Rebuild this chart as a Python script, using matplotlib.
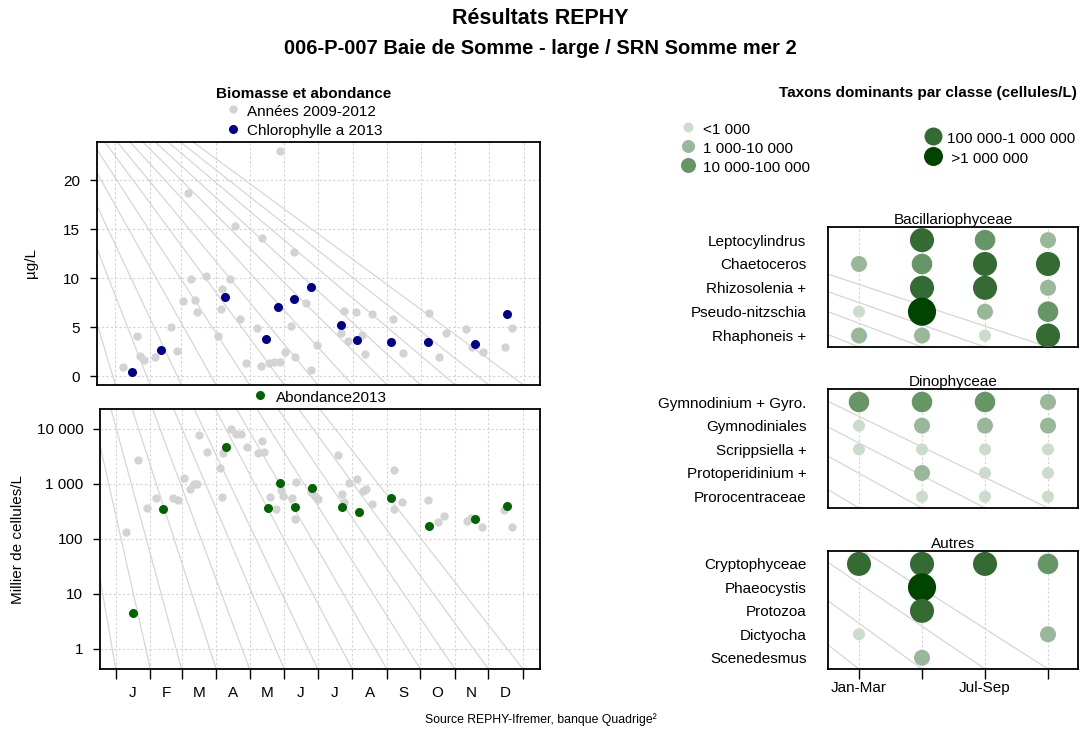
import numpy as np
import matplotlib
matplotlib.use("Agg")
import matplotlib.pyplot as plt
from matplotlib import transforms
from matplotlib.lines import Line2D
from matplotlib.ticker import FixedLocator, NullFormatter, FixedFormatter

plt.rcParams['font.family'] = ['Liberation Sans', 'DejaVu Sans']
plt.rcParams['font.size'] = 11

W, H = 1081, 731

# --- data -------------------------------------------------------------
months = ['J', 'F', 'M', 'A', 'M', 'J', 'J', 'A', 'S', 'O', 'N', 'D']
month_starts = [0, 31, 59, 90, 120, 151, 181, 212, 243, 273, 304, 334, 365]

# Chlorophylle a 2013 (day of year, µg/L)
chl_day = [14.6, 40.6, 98.3, 134.7, 145.5, 159.5, 174.8, 201.7, 216.0, 246.8, 279.7, 321.8, 350.5]
chl_val = [0.44, 2.66, 8.05, 3.78, 7.06, 7.9, 9.13, 5.25, 3.68, 3.51, 3.51, 3.27, 6.34]

# Années 2009-2012 chlorophylle
chl_hist_day = [147.3, 65.1, 106.9, 131.4, 159.6, 67.2, 81.2, 102.7, 95.3, 60.0, 70.8, 72.6,
                94.1, 111.4, 170.3, 204.0, 215.1, 229.5, 248.3, 280.0, 313.1, 295.2, 355.0,
                348.4, 319.1, 328.6, 289.2, 257.0, 223.0, 207.6, 201.7, 220.5, 180.2, 157.4,
                126.4, 92.0, 49.8, 19.1, 54.7, 35.5, 21.8, 25.4, 6.8, 116.8, 130.3, 137.4,
                142.2, 147.3, 151.2, 160.7, 174.5]
chl_hist_val = [23.0, 18.7, 15.3, 14.1, 12.7, 9.9, 10.26, 9.92, 8.93, 7.7, 7.8, 6.5,
                6.85, 5.83, 7.46, 6.68, 6.58, 6.37, 5.86, 6.47, 4.77, 4.43, 4.9,
                2.93, 3.0, 2.45, 1.97, 2.32, 2.28, 3.55, 4.36, 4.19, 3.17, 5.14,
                4.9, 4.12, 5.0, 4.12, 2.59, 1.94, 2.11, 1.7, 0.95, 1.3, 1.05, 1.3,
                1.43, 1.43, 2.48, 1.97, 0.61]

# Abondance 2013 (milliers de cellules/L)
ab_day = [15.2, 42.7, 99.1, 136.3, 147.0, 161.0, 175.7, 202.6, 217.8, 246.8, 280.9, 321.8, 350.5]
ab_val = [4.45, 348, 4650, 363, 1050, 383, 850, 380, 311, 545, 171, 232, 400]

ab_hist_day = [9.2, 20.3, 27.8, 36.1, 51.6, 55.6, 61.0, 66.6, 70.2, 72.6, 74.7, 82.1, 93.5,
               95.9, 95.6, 103.7, 107.6, 112.6, 117.7, 127.6, 131.4, 132.7, 138.3, 143.7,
               148.2, 150.3, 158.0, 161.4, 161.0, 174.8, 179.0, 181.7, 199.0, 202.6, 205.0,
               209.4, 216.0, 221.4, 224.4, 229.5, 249.8, 249.8, 257.0, 280.0, 289.2, 294.6,
               314.7, 318.5, 328.7, 348.4, 355.0]
ab_hist_val = [135, 2735, 363, 558, 550, 507, 1290, 795, 980, 1000, 7680, 3775, 1930,
               3570, 582, 10000, 8240, 8020, 4710, 3660, 6050, 3775, 582, 348,
               771, 607, 558, 1090, 232, 700, 600, 522, 3370, 644, 460,
               1050, 1235, 748, 813, 435, 1755, 348, 473, 513, 204, 260,
               214, 236, 164, 334, 164]

# Taxons dominants: abundance class per quarter (0 = absent)
quarters = ['Jan-Mar', '', 'Jul-Sep', '']
bac_taxa = ['Leptocylindrus', 'Chaetoceros', 'Rhizosolenia +', 'Pseudo-nitzschia', 'Rhaphoneis +']
bac_cls = [[0, 4, 3, 2], [2, 3, 4, 4], [0, 4, 4, 2], [1, 5, 2, 3], [2, 2, 1, 4]]
dino_taxa = ['Gymnodinium + Gyro.', 'Gymnodiniales', 'Scrippsiella +', 'Protoperidinium +', 'Prorocentraceae']
dino_cls = [[3, 3, 3, 2], [1, 2, 2, 2], [1, 1, 1, 1], [0, 2, 1, 1], [0, 1, 1, 1]]
aut_taxa = ['Cryptophyceae', 'Phaeocystis', 'Protozoa', 'Dictyocha', 'Scenedesmus']
aut_cls = [[4, 4, 4, 3], [0, 5, 0, 0], [0, 4, 0, 0], [1, 0, 0, 2], [0, 2, 0, 0]]

class_labels = ['<1 000', '1 000-10 000', '10 000-100 000', '100 000-1 000 000', ' >1 000 000']
class_colors = ['#ccdccc', '#99b899', '#669566', '#336b33', '#004400']
class_sizes = [75, 133, 218, 300, 410]
legend_px = [10, 13, 15, 18, 19]

GRAY = '#d3d3d3'
LINE = '#d6d6d6'


def rect(l, t, r, b):
    return [l / W, 1 - b / H, (r - l) / W, (b - t) / H]


def fx(px):
    return px / W


def fy(py):
    return 1 - py / H


fig = plt.figure(figsize=(W / 100, H / 100), dpi=100)


def fan_lines(ax, xs):
    # light lines from the figure corner to the bottom tick positions, clipped to the panel
    tr = transforms.blended_transform_factory(ax.transData, ax.transAxes)
    inv = fig.transFigure.inverted()
    for x in xs:
        p = inv.transform(tr.transform((x, 0)))
        ln = Line2D([0, p[0]], [1, p[1]], transform=fig.transFigure, color=LINE,
                    lw=0.9, zorder=0.5)
        ax.add_line(ln)


def style_box(ax):
    for s in ax.spines.values():
        s.set_linewidth(1.3)
        s.set_color('black')


# --- titles -------------------------------------------------------------
fig.text(0.5, fy(19), 'Résultats REPHY', ha='center', va='center', fontsize=15.5, fontweight='bold')
fig.text(0.5, fy(48), '006-P-007 Baie de Somme - large / SRN Somme mer 2', ha='center',
         va='center', fontsize=14.5, fontweight='bold')

# --- top-left: chlorophylle --------------------------------------------
ax1 = fig.add_axes(rect(97, 142, 540, 385))
ax1.set_xlim(-16.5, 379.6)
ax1.set_ylim(-0.9, 23.9)
ax1.set_xticks(month_starts)
ax1.tick_params(axis='x', length=0, labelbottom=False)
ax1.set_yticks([0, 5, 10, 15, 20])
ax1.tick_params(axis='y', length=5, width=1, pad=7, labelsize=11)
ax1.grid(True, color=GRAY, linestyle=(0, (2, 2)), lw=0.8, zorder=0)
ax1.set_axisbelow(True)
style_box(ax1)
fan_lines(ax1, month_starts)
ax1.plot(chl_hist_day, chl_hist_val, 'o', color=GRAY, ms=6, mec='none', zorder=2)
ax1.plot(chl_day, chl_val, 'o', color='#00008b', ms=6.5, mec='none', zorder=3)
fig.text(fx(31), fy(263), 'µg/L', rotation=90, ha='center', va='center', fontsize=11)

fig.text(fx(304), fy(94), 'Biomasse et abondance', ha='center', va='center',
         fontsize=11, fontweight='bold')
fig.add_artist(Line2D([fx(232.7)], [fy(109.3)], marker='o', color=GRAY, ms=6, mec='none'))
fig.text(fx(247), fy(112.5), 'Années 2009-2012', ha='left', va='center', fontsize=11)
fig.add_artist(Line2D([fx(232.7)], [fy(129)], marker='o', color='#00008b', ms=6.5, mec='none'))
fig.text(fx(247), fy(131.5), 'Chlorophylle a 2013', ha='left', va='center', fontsize=11)

# --- bottom-left: abondance ---------------------------------------------
ax2 = fig.add_axes(rect(100, 409, 540, 669))
ax2.set_yscale('log')
ax2.set_xlim(-14.1, 380.3)
ax2.set_ylim(0.43, 23000)
ax2.xaxis.set_major_locator(FixedLocator(month_starts))
ax2.xaxis.set_major_formatter(NullFormatter())
mid = [(month_starts[i] + month_starts[i + 1]) / 2 for i in range(12)]
ax2.xaxis.set_minor_locator(FixedLocator(mid))
ax2.xaxis.set_minor_formatter(FixedFormatter(months))
ax2.tick_params(axis='x', which='major', length=7.5, width=1)
ax2.tick_params(axis='x', which='minor', length=0, pad=12.5, labelsize=11)
ax2.yaxis.set_major_locator(FixedLocator([1, 10, 100, 1000, 10000]))
ax2.yaxis.set_major_formatter(FixedFormatter(['1', '10', '100', '1 000', '10 000']))
ax2.yaxis.set_minor_locator(FixedLocator([]))
ax2.tick_params(axis='y', length=5, width=1, pad=7, labelsize=11)
ax2.grid(True, which='major', color=GRAY, linestyle=(0, (2, 2)), lw=0.8, zorder=0)
ax2.set_axisbelow(True)
style_box(ax2)
fan_lines(ax2, month_starts)
ax2.plot(ab_hist_day, ab_hist_val, 'o', color=GRAY, ms=6, mec='none', zorder=2)
ax2.plot(ab_day, ab_val, 'o', color='#006400', ms=6.5, mec='none', zorder=3)
fig.text(fx(18), fy(539), 'Millier de cellules/L', rotation=90, ha='center', va='center',
         fontsize=11)
fig.add_artist(Line2D([fx(260)], [fy(395)], marker='o', color='#006400', ms=6.5, mec='none'))
fig.text(fx(275.7), fy(398), 'Abondance2013', ha='left', va='center', fontsize=11)

fig.text(0.5, fy(720), 'Source REPHY-Ifremer, banque Quadrige²', ha='center', va='center',
         fontsize=8.8)

# --- right: taxons dominants --------------------------------------------
fig.text(fx(1077), fy(93), 'Taxons dominants par classe (cellules/L)', ha='right', va='center',
         fontsize=11, fontweight='bold')
leg_pos = [(688, 126.7, 703), (688, 146, 703), (688, 165, 703), (933, 136, 946.7), (933, 156, 946.7)]
for (mx, my, tx), lab, col, d in zip(leg_pos, class_labels, class_colors, legend_px):
    fig.add_artist(Line2D([fx(mx)], [fy(my)], marker='o', color=col, ms=d * 0.72, mec='none'))
    fig.text(fx(tx), fy(my + 3), lab, ha='left', va='center', fontsize=11)

panels = [
    ('Bacillariophyceae', bac_taxa, bac_cls, (227, 347)),
    ('Dinophyceae', dino_taxa, dino_cls, (389, 508)),
    ('Autres', aut_taxa, aut_cls, (551, 669)),
]
xq = [1, 2, 3, 4]
for k, (name, taxa, cls, (t, b)) in enumerate(panels):
    ax = fig.add_axes(rect(828, t, 1078, b))
    ax.set_xlim(0.508, 4.476)
    ax.set_ylim(5.48, 0.45)
    ax.set_yticks(range(1, len(taxa) + 1))
    ax.set_yticklabels(taxa)
    ax.tick_params(axis='y', length=0, pad=15.5, labelsize=11)
    ax.set_xticks(xq)
    ax.grid(True, axis='x', color=GRAY, linestyle=(0, (2, 2)), lw=0.8, zorder=0)
    ax.set_axisbelow(True)
    if k == 2:
        ax.set_xticklabels(quarters)
        ax.tick_params(axis='x', length=7.5, width=1, pad=1, labelsize=11)
    else:
        ax.tick_params(axis='x', length=0, labelbottom=False)
    style_box(ax)
    ax.set_title(name, fontsize=11, pad=1.5)
    fan_lines(ax, xq)
    for i, row in enumerate(cls):
        for j, c in enumerate(row):
            if c > 0:
                ax.scatter(xq[j], i + 1, s=class_sizes[c - 1], color=class_colors[c - 1],
                           edgecolors='none', zorder=3)

fig.savefig('out.png', dpi=100)
